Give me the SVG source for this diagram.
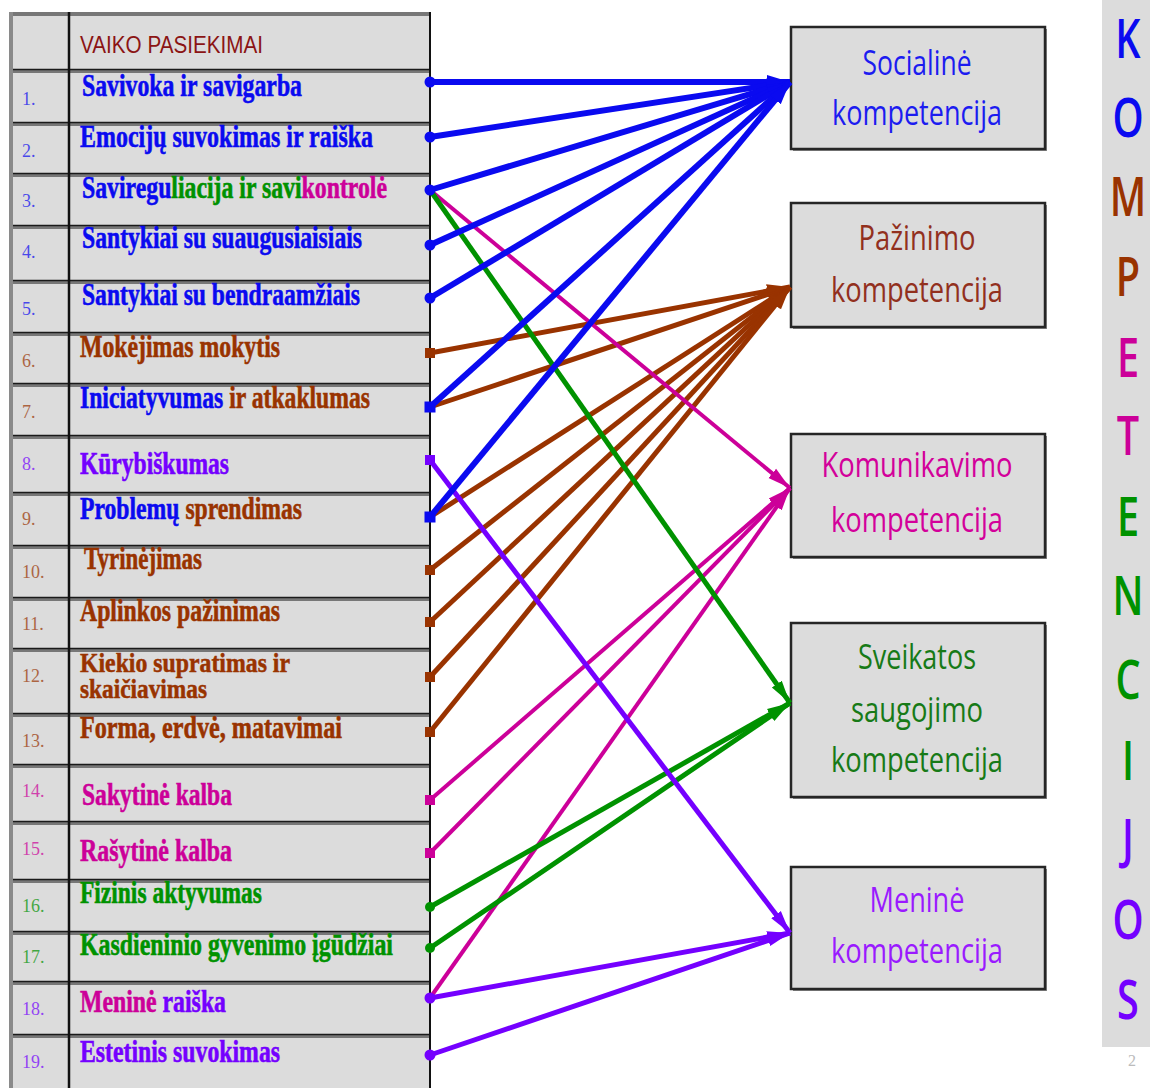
<svg xmlns="http://www.w3.org/2000/svg" width="1150" height="1088" viewBox="0 0 1150 1088">
<style>
.t{font-family:"Liberation Serif",serif;font-weight:bold;font-size:32px;stroke-width:0.6}
.t2{font-family:"Liberation Serif",serif;font-weight:bold;font-size:27px;stroke-width:0.5}
.hd{font-family:"Liberation Sans",sans-serif;font-size:24px;fill:#8b1414}
.bx{fill:#dcdcdc;stroke:#262626;stroke-width:2.5}
.sh{fill:#8a8a8a}
.bt{font-family:"Open Sans","Liberation Sans",sans-serif;font-size:35px;text-anchor:middle}
.rl{stroke:#777;stroke-width:4}
.rd{stroke:#1a1a1a;stroke-width:1.5}
.blue{fill:#0a0af0;stroke:#0a0af0}.brown{fill:#993300;stroke:#993300}.mag{fill:#cc0099;stroke:#cc0099}.green{fill:#009200;stroke:#009200}.vio{fill:#7400ff;stroke:#7400ff}
text.n{font-family:"Liberation Serif",serif;font-size:18px;opacity:0.7;stroke:none}
text.lt{font-family:"Open Sans","Liberation Sans",sans-serif;font-size:55px;font-weight:600;text-anchor:middle;stroke:none}
.cb{stroke:#0a0af0;stroke-width:6;fill:none}
.cr{stroke:#993300;stroke-width:5;fill:none}
.cm{stroke:#cc0099;stroke-width:4;fill:none}
.cg{stroke:#009200;stroke-width:5;fill:none}
.cv{stroke:#7400ff;stroke-width:5;fill:none}
</style>
<defs>
<marker id="ab" markerUnits="userSpaceOnUse" markerWidth="24" markerHeight="16" refX="23" refY="8" orient="auto"><path d="M0,1 L23,8 L0,15 z" fill="#0a0af0"/></marker>
<marker id="ar" markerUnits="userSpaceOnUse" markerWidth="24" markerHeight="16" refX="23" refY="8" orient="auto"><path d="M0,1 L23,8 L0,15 z" fill="#993300"/></marker>
<marker id="am" markerUnits="userSpaceOnUse" markerWidth="24" markerHeight="16" refX="23" refY="8" orient="auto"><path d="M0,2 L23,8 L0,14 z" fill="#cc0099"/></marker>
<marker id="ag" markerUnits="userSpaceOnUse" markerWidth="24" markerHeight="16" refX="23" refY="8" orient="auto"><path d="M0,2 L23,8 L0,14 z" fill="#009200"/></marker>
<marker id="av" markerUnits="userSpaceOnUse" markerWidth="24" markerHeight="16" refX="23" refY="8" orient="auto"><path d="M0,2 L23,8 L0,14 z" fill="#7400ff"/></marker>
<marker id="db" markerUnits="userSpaceOnUse" markerWidth="12" markerHeight="12" refX="6" refY="6"><circle cx="6" cy="6" r="5.5" fill="#0a0af0"/></marker>
<marker id="sb" markerUnits="userSpaceOnUse" markerWidth="12" markerHeight="12" refX="6" refY="6"><rect x="0.5" y="0.5" width="11" height="11" fill="#0a0af0"/></marker>
<marker id="sr" markerUnits="userSpaceOnUse" markerWidth="12" markerHeight="12" refX="6" refY="6"><rect x="1" y="1" width="10" height="10" fill="#993300"/></marker>
<marker id="sm" markerUnits="userSpaceOnUse" markerWidth="12" markerHeight="12" refX="6" refY="6"><rect x="1" y="1" width="10" height="10" fill="#cc0099"/></marker>
<marker id="dg" markerUnits="userSpaceOnUse" markerWidth="12" markerHeight="12" refX="6" refY="6"><circle cx="6" cy="6" r="5" fill="#009200"/></marker>
<marker id="dv" markerUnits="userSpaceOnUse" markerWidth="12" markerHeight="12" refX="6" refY="6"><circle cx="6" cy="6" r="5.5" fill="#7400ff"/></marker>
<marker id="sv" markerUnits="userSpaceOnUse" markerWidth="12" markerHeight="12" refX="6" refY="6"><rect x="1" y="1" width="10" height="10" fill="#7400ff"/></marker>
</defs>
<rect width="1150" height="1088" fill="#fff"/>

<g id="table">
<rect x="11" y="14" width="419" height="1074" fill="#dcdcdc"/>
<g>
<line class="rl" x1="11" y1="14" x2="430" y2="14"/>
<line class="rl" x1="11" y1="71" x2="430" y2="71"/><line class="rd" x1="11" y1="69.5" x2="430" y2="69.5"/>
<line class="rl" x1="11" y1="124" x2="430" y2="124"/><line class="rd" x1="11" y1="122.5" x2="430" y2="122.5"/>
<line class="rl" x1="11" y1="175" x2="430" y2="175"/><line class="rd" x1="11" y1="173.5" x2="430" y2="173.5"/>
<line class="rl" x1="11" y1="227" x2="430" y2="227"/><line class="rd" x1="11" y1="225.5" x2="430" y2="225.5"/>
<line class="rl" x1="11" y1="282" x2="430" y2="282"/><line class="rd" x1="11" y1="280.5" x2="430" y2="280.5"/>
<line class="rl" x1="11" y1="334" x2="430" y2="334"/><line class="rd" x1="11" y1="332.5" x2="430" y2="332.5"/>
<line class="rl" x1="11" y1="385" x2="430" y2="385"/><line class="rd" x1="11" y1="383.5" x2="430" y2="383.5"/>
<line class="rl" x1="11" y1="437" x2="430" y2="437"/><line class="rd" x1="11" y1="435.5" x2="430" y2="435.5"/>
<line class="rl" x1="11" y1="494" x2="430" y2="494"/><line class="rd" x1="11" y1="492.5" x2="430" y2="492.5"/>
<line class="rl" x1="11" y1="547" x2="430" y2="547"/><line class="rd" x1="11" y1="545.5" x2="430" y2="545.5"/>
<line class="rl" x1="11" y1="599" x2="430" y2="599"/><line class="rd" x1="11" y1="597.5" x2="430" y2="597.5"/>
<line class="rl" x1="11" y1="650" x2="430" y2="650"/><line class="rd" x1="11" y1="648.5" x2="430" y2="648.5"/>
<line class="rl" x1="11" y1="715" x2="430" y2="715"/><line class="rd" x1="11" y1="713.5" x2="430" y2="713.5"/>
<line class="rl" x1="11" y1="766" x2="430" y2="766"/><line class="rd" x1="11" y1="764.5" x2="430" y2="764.5"/>
<line class="rl" x1="11" y1="823" x2="430" y2="823"/><line class="rd" x1="11" y1="821.5" x2="430" y2="821.5"/>
<line class="rl" x1="11" y1="881" x2="430" y2="881"/><line class="rd" x1="11" y1="879.5" x2="430" y2="879.5"/>
<line class="rl" x1="11" y1="933" x2="430" y2="933"/><line class="rd" x1="11" y1="931.5" x2="430" y2="931.5"/>
<line class="rl" x1="11" y1="983" x2="430" y2="983"/><line class="rd" x1="11" y1="981.5" x2="430" y2="981.5"/>
<line class="rl" x1="11" y1="1036" x2="430" y2="1036"/><line class="rd" x1="11" y1="1034.5" x2="430" y2="1034.5"/>
<line x1="11" y1="12" x2="11" y2="1088" stroke="#8a8a8a" stroke-width="4"/>
<line x1="69" y1="12" x2="69" y2="1088" stroke="#111" stroke-width="2.5"/>
<line x1="430" y1="12" x2="430" y2="1088" stroke="#111" stroke-width="2"/>
</g>
<g id="header"><text class="hd" x="80" y="53" textLength="183" lengthAdjust="spacingAndGlyphs">VAIKO PASIEKIMAI</text></g>
<g id="row-1"><text class="n blue" x="22" y="105">1.</text><text class="t blue" x="82" y="96" textLength="220" lengthAdjust="spacingAndGlyphs">Savivoka ir savigarba</text></g>
<g id="row-2"><text class="n blue" x="22" y="157">2.</text><text class="t blue" x="80" y="147" textLength="293" lengthAdjust="spacingAndGlyphs">Emocijų suvokimas ir raiška</text></g>
<g id="row-3"><text class="n blue" x="22" y="207">3.</text><text class="t blue" x="82" y="198" textLength="305" lengthAdjust="spacingAndGlyphs">Saviregu<tspan class="green">liacija ir savi</tspan><tspan class="mag">kontrolė</tspan></text></g>
<g id="row-4"><text class="n blue" x="22" y="258">4.</text><text class="t blue" x="82" y="248" textLength="280" lengthAdjust="spacingAndGlyphs">Santykiai su suaugusiaisiais</text></g>
<g id="row-5"><text class="n blue" x="22" y="315">5.</text><text class="t blue" x="82" y="305" textLength="278" lengthAdjust="spacingAndGlyphs">Santykiai su bendraamžiais</text></g>
<g id="row-6"><text class="n brown" x="22" y="367">6.</text><text class="t brown" x="80" y="357" textLength="200" lengthAdjust="spacingAndGlyphs">Mokėjimas mokytis</text></g>
<g id="row-7"><text class="n brown" x="22" y="418">7.</text><text class="t blue" x="80" y="408" textLength="290" lengthAdjust="spacingAndGlyphs">Iniciatyvumas <tspan class="brown">ir atkaklumas</tspan></text></g>
<g id="row-8"><text class="n vio" x="22" y="470">8.</text><text class="t vio" x="80" y="474" textLength="149" lengthAdjust="spacingAndGlyphs">Kūrybiškumas</text></g>
<g id="row-9"><text class="n brown" x="22" y="525">9.</text><text class="t blue" x="80" y="519" textLength="222" lengthAdjust="spacingAndGlyphs">Problemų <tspan class="brown">sprendimas</tspan></text></g>
<g id="row-10"><text class="n brown" x="22" y="578">10.</text><text class="t brown" x="84" y="569" textLength="118" lengthAdjust="spacingAndGlyphs">Tyrinėjimas</text></g>
<g id="row-11"><text class="n brown" x="22" y="630">11.</text><text class="t brown" x="80" y="621" textLength="200" lengthAdjust="spacingAndGlyphs">Aplinkos pažinimas</text></g>
<g id="row-12"><text class="n brown" x="22" y="682">12.</text><text class="t2 brown" x="80" y="672" textLength="210" lengthAdjust="spacingAndGlyphs">Kiekio supratimas ir</text><text class="t2 brown" x="80" y="698" textLength="127" lengthAdjust="spacingAndGlyphs">skaičiavimas</text></g>
<g id="row-13"><text class="n brown" x="22" y="747">13.</text><text class="t brown" x="80" y="738" textLength="262" lengthAdjust="spacingAndGlyphs">Forma, erdvė, matavimai</text></g>
<g id="row-14"><text class="n mag" x="22" y="797">14.</text><text class="t mag" x="82" y="805" textLength="150" lengthAdjust="spacingAndGlyphs">Sakytinė kalba</text></g>
<g id="row-15"><text class="n mag" x="22" y="855">15.</text><text class="t mag" x="80" y="861" textLength="152" lengthAdjust="spacingAndGlyphs">Rašytinė kalba</text></g>
<g id="row-16"><text class="n green" x="22" y="912">16.</text><text class="t green" x="80" y="903" textLength="182" lengthAdjust="spacingAndGlyphs">Fizinis aktyvumas</text></g>
<g id="row-17"><text class="n green" x="22" y="963">17.</text><text class="t green" x="80" y="955" textLength="313" lengthAdjust="spacingAndGlyphs">Kasdieninio gyvenimo įgūdžiai</text></g>
<g id="row-18"><text class="n vio" x="22" y="1015">18.</text><text class="t mag" x="80" y="1012" textLength="146" lengthAdjust="spacingAndGlyphs">Meninė <tspan class="vio">raiška</tspan></text></g>
<g id="row-19"><text class="n vio" x="22" y="1068">19.</text><text class="t vio" x="80" y="1062" textLength="200" lengthAdjust="spacingAndGlyphs">Estetinis suvokimas</text></g>
</g>

<g id="box-socialine">
<rect class="sh" x="793" y="29" width="254" height="122"/>
<rect class="bx" x="791" y="27" width="254" height="122"/>
<text class="bt" x="917" y="75" fill="#1c1cf0" textLength="109" lengthAdjust="spacingAndGlyphs">Socialinė</text>
<text class="bt" x="917" y="125" fill="#1c1cf0" textLength="170" lengthAdjust="spacingAndGlyphs">kompetencija</text>
</g>
<g id="box-pazinimo">
<rect class="sh" x="793" y="205" width="254" height="124"/>
<rect class="bx" x="791" y="203" width="254" height="124"/>
<text class="bt" x="917" y="250" fill="#92301e" textLength="117" lengthAdjust="spacingAndGlyphs">Pažinimo</text>
<text class="bt" x="917" y="302" fill="#92301e" textLength="172" lengthAdjust="spacingAndGlyphs">kompetencija</text>
</g>
<g id="box-komunikavimo">
<rect class="sh" x="793" y="436" width="254" height="123"/>
<rect class="bx" x="791" y="434" width="254" height="123"/>
<text class="bt" x="917" y="477" fill="#d3009a" textLength="191" lengthAdjust="spacingAndGlyphs">Komunikavimo</text>
<text class="bt" x="917" y="532" fill="#d3009a" textLength="172" lengthAdjust="spacingAndGlyphs">kompetencija</text>
</g>
<g id="box-sveikatos">
<rect class="sh" x="793" y="625" width="254" height="174"/>
<rect class="bx" x="791" y="623" width="254" height="174"/>
<text class="bt" x="917" y="669" fill="#177a17" textLength="118" lengthAdjust="spacingAndGlyphs">Sveikatos</text>
<text class="bt" x="917" y="722" fill="#177a17" textLength="132" lengthAdjust="spacingAndGlyphs">saugojimo</text>
<text class="bt" x="917" y="772" fill="#177a17" textLength="172" lengthAdjust="spacingAndGlyphs">kompetencija</text>
</g>
<g id="box-menine">
<rect class="sh" x="793" y="869" width="254" height="122"/>
<rect class="bx" x="791" y="867" width="254" height="122"/>
<text class="bt" x="917" y="912" fill="#9a1aff" textLength="95" lengthAdjust="spacingAndGlyphs">Meninė</text>
<text class="bt" x="917" y="963" fill="#9a1aff" textLength="172" lengthAdjust="spacingAndGlyphs">kompetencija</text>
</g>

<g id="kompetencijos">
<rect x="1102" y="0" width="48" height="1047" fill="#dcdcdc"/>
<g transform="translate(1128,0) scale(0.72,1)">
<text class="lt blue" x="0" y="58">K</text>
<text class="lt blue" x="0" y="137">O</text>
<text class="lt brown" x="0" y="216">M</text>
<text class="lt brown" x="0" y="296">P</text>
<text class="lt mag" x="0" y="377">E</text>
<text class="lt mag" x="0" y="455">T</text>
<text class="lt green" x="0" y="536">E</text>
<text class="lt green" x="0" y="615">N</text>
<text class="lt green" x="0" y="699">C</text>
<text class="lt green" x="0" y="780">I</text>
<text class="lt vio" x="0" y="858">J</text>
<text class="lt vio" x="0" y="939">O</text>
<text class="lt vio" x="0" y="1019">S</text>
</g>
<text x="1132" y="1066" font-family="Liberation Serif, serif" font-size="16" fill="#bbbbbb" text-anchor="middle">2</text>
</g>

<g id="connectors">
<line class="cr" x1="430" y1="353" x2="790" y2="287" marker-start="url(#sr)" marker-end="url(#ar)"/>
<line class="cr" x1="430" y1="407" x2="790" y2="287" marker-end="url(#ar)"/>
<line class="cr" x1="430" y1="517" x2="790" y2="287" marker-end="url(#ar)"/>
<line class="cr" x1="430" y1="570" x2="790" y2="287" marker-start="url(#sr)" marker-end="url(#ar)"/>
<line class="cr" x1="430" y1="622" x2="790" y2="287" marker-start="url(#sr)" marker-end="url(#ar)"/>
<line class="cr" x1="430" y1="677" x2="790" y2="287" marker-start="url(#sr)" marker-end="url(#ar)"/>
<line class="cr" x1="430" y1="732" x2="790" y2="287" marker-start="url(#sr)" marker-end="url(#ar)"/>
<line class="cm" x1="430" y1="190" x2="790" y2="488" stroke-width="3.5" marker-end="url(#am)"/>
<line class="cm" x1="430" y1="800" x2="790" y2="488" marker-start="url(#sm)" marker-end="url(#am)"/>
<line class="cm" x1="430" y1="853" x2="790" y2="488" marker-start="url(#sm)" marker-end="url(#am)"/>
<line class="cm" x1="430" y1="998" x2="790" y2="488" stroke-width="3.5" marker-end="url(#am)"/>
<line class="cg" x1="430" y1="190" x2="790" y2="703" stroke-width="3" marker-end="url(#ag)"/>
<line class="cg" x1="430" y1="907" x2="790" y2="703" marker-start="url(#dg)" marker-end="url(#ag)"/>
<line class="cg" x1="430" y1="948" x2="790" y2="703" marker-start="url(#dg)" marker-end="url(#ag)"/>
<line class="cv" x1="430" y1="460" x2="790" y2="933" stroke-width="4" marker-start="url(#sv)" marker-end="url(#av)"/>
<line class="cv" x1="430" y1="998" x2="790" y2="933" marker-start="url(#dv)" marker-end="url(#av)"/>
<line class="cv" x1="430" y1="1055" x2="790" y2="933" marker-start="url(#dv)" marker-end="url(#av)"/>
<line class="cb" x1="430" y1="82" x2="790" y2="82" marker-start="url(#db)" marker-end="url(#ab)"/>
<line class="cb" x1="430" y1="137" x2="790" y2="82" marker-start="url(#db)" marker-end="url(#ab)"/>
<line class="cb" x1="430" y1="190" x2="790" y2="82" marker-start="url(#db)" marker-end="url(#ab)"/>
<line class="cb" x1="430" y1="245" x2="790" y2="82" marker-start="url(#db)" marker-end="url(#ab)"/>
<line class="cb" x1="430" y1="298" x2="790" y2="82" marker-start="url(#db)" marker-end="url(#ab)"/>
<line class="cb" x1="430" y1="407" x2="790" y2="82" marker-start="url(#sb)" marker-end="url(#ab)"/>
<line class="cb" x1="430" y1="517" x2="790" y2="82" marker-start="url(#sb)" marker-end="url(#ab)"/>
</g>
</svg>
